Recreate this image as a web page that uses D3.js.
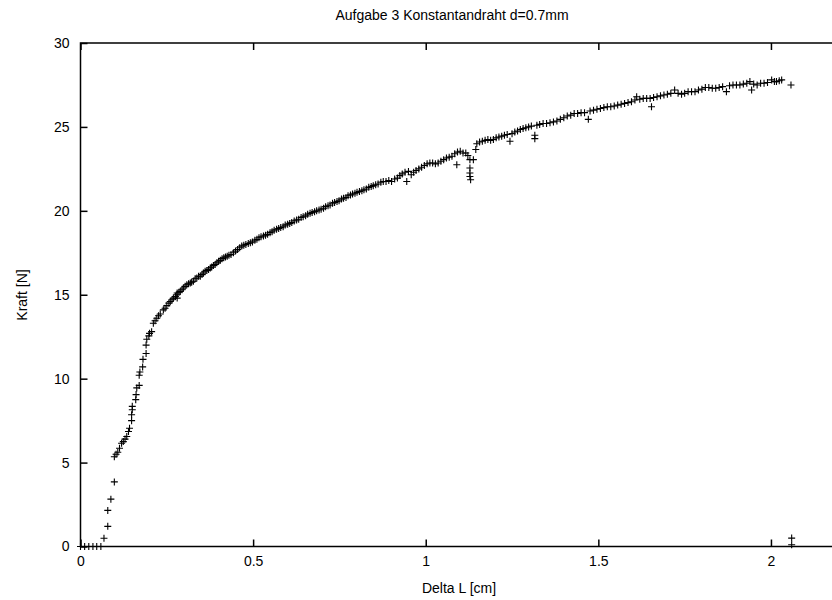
<!DOCTYPE html>
<html>
<head>
<meta charset="utf-8">
<script src="https://cdn.jsdelivr.net/npm/d3@7"></script>
<style>
  body { margin: 0; background: #fff; }
  svg { display: block; font-family: "Liberation Sans", Arial, sans-serif; }
</style>
</head>
<body>
<svg width="832" height="600"></svg>
<script>
// Messwerte: Delta L [cm] und Kraft [N]
const deltaL = [
  0, 0.012, 0.024, 0.036, 0.047, 0.059, 0.068, 0.079, 0.079, 0.088, 0.098, 0.098,
  0.103, 0.108, 0.113, 0.119, 0.124, 0.129, 0.134, 0.139, 0.142, 0.148, 0.148, 0.150,
  0.150, 0.160, 0.161, 0.163, 0.170, 0.170, 0.172, 0.180, 0.181, 0.190, 0.190, 0.192,
  0.198, 0.200, 0.206, 0.211, 0.216, 0.221, 0.226, 0.231, 0.240, 0.245, 0.250, 0.256,
  0.260, 0.265, 0.269, 0.275, 0.279, 0.280, 0.280, 0.285, 0.289, 0.294, 0.298, 0.303,
  0.308, 0.313, 0.318, 0.322, 0.327, 0.332, 0.337, 0.342, 0.347, 0.352, 0.356, 0.361,
  0.366, 0.371, 0.376, 0.380, 0.385, 0.390, 0.395, 0.400, 0.405, 0.410, 0.415, 0.420,
  0.425, 0.430, 0.436, 0.443, 0.449, 0.455, 0.461, 0.467, 0.473, 0.479, 0.486, 0.492,
  0.498, 0.505, 0.511, 0.517, 0.523, 0.530, 0.536, 0.542, 0.549, 0.555, 0.561, 0.568,
  0.574, 0.580, 0.587, 0.593, 0.600, 0.606, 0.612, 0.619, 0.626, 0.632, 0.639, 0.645,
  0.652, 0.658, 0.665, 0.671, 0.678, 0.684, 0.691, 0.697, 0.704, 0.710, 0.717, 0.723,
  0.730, 0.736, 0.743, 0.749, 0.756, 0.762, 0.769, 0.775, 0.782, 0.788, 0.795, 0.801,
  0.808, 0.815, 0.821, 0.828, 0.835, 0.842, 0.848, 0.855, 0.862, 0.870, 0.877, 0.885,
  0.893, 0.901, 0.910, 0.918, 0.925, 0.932, 0.940, 0.945, 0.950, 0.958, 0.965, 0.972,
  0.980, 0.988, 0.996, 1.004, 1.012, 1.020, 1.028, 1.036, 1.044, 1.052, 1.060, 1.068,
  1.076, 1.084, 1.090, 1.092, 1.100, 1.108, 1.116, 1.122, 1.128, 1.128, 1.128, 1.128,
  1.130, 1.138, 1.145, 1.148, 1.156, 1.164, 1.172, 1.180, 1.188, 1.196, 1.204, 1.212,
  1.220, 1.228, 1.236, 1.244, 1.250, 1.258, 1.266, 1.274, 1.282, 1.290, 1.298, 1.306,
  1.316, 1.316, 1.322, 1.330, 1.340, 1.350, 1.360, 1.370, 1.380, 1.390, 1.400, 1.410,
  1.420, 1.430, 1.440, 1.450, 1.460, 1.471, 1.476, 1.486, 1.496, 1.506, 1.516, 1.526,
  1.536, 1.546, 1.556, 1.566, 1.576, 1.586, 1.596, 1.606, 1.611, 1.620, 1.630, 1.640,
  1.650, 1.654, 1.660, 1.670, 1.680, 1.690, 1.700, 1.710, 1.721, 1.731, 1.741, 1.750,
  1.760, 1.770, 1.780, 1.790, 1.800, 1.810, 1.820, 1.830, 1.840, 1.850, 1.860, 1.871,
  1.880, 1.890, 1.900, 1.910, 1.920, 1.930, 1.939, 1.944, 1.950, 1.960, 1.970, 1.980,
  1.990, 2.002, 2.010, 2.016, 2.024, 2.031, 2.058, 2.060, 2.060
];
const kraft = [
  0, 0, 0, 0, 0, 0, 0.49, 1.2, 2.15, 2.82, 3.85, 5.35,
  5.5, 5.62, 5.85, 6.15, 6.25, 6.4, 6.55, 6.85, 7.05, 7.5, 7.85, 8.15,
  8.35, 8.75, 9.05, 9.45, 9.6, 10.2, 10.4, 10.7, 11.15, 11.5, 12.0, 12.35,
  12.55, 12.7, 12.8, 13.3, 13.45, 13.6, 13.75, 13.85, 14.1, 14.2, 14.35, 14.5,
  14.6, 14.7, 14.8, 14.9, 15.0, 15.1, 14.8, 15.15, 15.2, 15.3, 15.4, 15.5,
  15.6, 15.65, 15.7, 15.75, 15.8, 15.95, 16.0, 16.1, 16.1, 16.2, 16.3, 16.4,
  16.45, 16.5, 16.6, 16.65, 16.75, 16.8, 16.9, 17.0, 17.05, 17.15, 17.2, 17.25,
  17.3, 17.35, 17.4, 17.5, 17.6, 17.7, 17.8, 17.9, 17.95, 18.0, 18.05, 18.1,
  18.15, 18.25, 18.3, 18.4, 18.45, 18.5, 18.55, 18.6, 18.7, 18.75, 18.85, 18.9,
  18.95, 19.0, 19.05, 19.15, 19.2, 19.25, 19.3, 19.4, 19.45, 19.5, 19.6, 19.65,
  19.7, 19.8, 19.85, 19.9, 19.95, 20.0, 20.05, 20.1, 20.15, 20.25, 20.3, 20.35,
  20.45, 20.5, 20.55, 20.6, 20.7, 20.75, 20.8, 20.9, 20.95, 21.0, 21.05, 21.1,
  21.15, 21.2, 21.25, 21.3, 21.4, 21.45, 21.5, 21.55, 21.6, 21.7, 21.75, 21.75,
  21.8, 21.75, 21.9, 21.95, 22.1, 22.2, 22.3, 21.75, 22.35, 22.15, 22.3, 22.4,
  22.5, 22.6, 22.7, 22.8, 22.85, 22.85, 22.8, 22.85, 22.95, 23.05, 23.15, 23.2,
  23.25, 23.4, 22.75, 23.5, 23.55, 23.45, 23.45, 23.3, 23.05, 22.55, 22.25, 22.05,
  21.85, 23.05, 23.65, 24.0, 24.1, 24.15, 24.2, 24.25, 24.2, 24.25, 24.35, 24.4,
  24.45, 24.5, 24.55, 24.15, 24.6, 24.7, 24.75, 24.85, 24.9, 24.95, 25.0, 25.05,
  24.5, 24.3, 25.1, 25.15, 25.2, 25.2, 25.25, 25.3, 25.35, 25.45, 25.55, 25.65,
  25.7, 25.8, 25.8, 25.85, 25.85, 25.45, 25.95, 26.0, 26.05, 26.1, 26.15, 26.2,
  26.2, 26.25, 26.3, 26.35, 26.4, 26.45, 26.5, 26.6, 26.8, 26.65, 26.7, 26.7,
  26.7, 26.2, 26.75, 26.8, 26.85, 26.9, 26.95, 27.0, 27.2, 27.0, 26.95, 27.0,
  27.1, 27.1, 27.1, 27.2, 27.25, 27.35, 27.35, 27.3, 27.3, 27.35, 27.4, 27.1,
  27.45, 27.5, 27.5, 27.5, 27.55, 27.6, 27.7, 27.2, 27.55, 27.5, 27.6, 27.6,
  27.65, 27.8, 27.7, 27.7, 27.75, 27.8, 27.5, 0.5, 0.1
];
const xTicks = [0, 0.5, 1, 1.5, 2];
const yTicks = [0, 5, 10, 15, 20, 25, 30];

const svg = d3.select("svg");

// plot area (right edge lies just outside the picture, like the original)
const plotLeft = 80.5, plotRight = 840, plotTop = 43, plotBottom = 546.5;

const x = d3.scaleLinear().domain([0, 2.2]).range([plotLeft, plotRight]);
const y = d3.scaleLinear().domain([0, 30]).range([plotBottom, plotTop]);

// border
svg.append("rect")
  .attr("x", plotLeft).attr("y", plotTop)
  .attr("width", plotRight - plotLeft).attr("height", plotBottom - plotTop)
  .attr("fill", "none").attr("stroke", "#000").attr("stroke-width", 1.5);

// axes with inward ticks
const xAxis = svg.append("g")
  .attr("transform", `translate(0,${plotBottom})`)
  .call(d3.axisBottom(x).tickValues(xTicks).tickFormat(d3.format("")).tickSizeInner(-7).tickSizeOuter(0).tickPadding(10));
const xTop = svg.append("g")
  .attr("transform", `translate(0,${plotTop})`)
  .call(d3.axisTop(x).tickValues(xTicks).tickFormat("").tickSizeInner(-7).tickSizeOuter(0));
const yAxis = svg.append("g")
  .attr("transform", `translate(${plotLeft},0)`)
  .call(d3.axisLeft(y).tickValues(yTicks).tickSizeInner(-7).tickSizeOuter(0).tickPadding(11));

[xAxis, xTop, yAxis].forEach(g => {
  g.select(".domain").remove();
  g.selectAll("line").attr("stroke", "#000").attr("stroke-width", 1.5);
  g.selectAll("text").attr("font-size", 14).attr("fill", "#000")
    .attr("font-family", "'Liberation Sans', Arial, sans-serif");
});

// data points as "+" marks
const plus = "M-3.5,0H3.5M0,-3.5V3.5";
svg.append("g")
  .selectAll("path")
  .data(deltaL.map((d, i) => [d, kraft[i]]))
  .join("path")
  .attr("transform", d => `translate(${x(d[0])},${y(d[1])})`)
  .attr("d", plus)
  .attr("stroke", "#000")
  .attr("stroke-width", 1.1)
  .attr("fill", "none");

// title and labels
svg.append("text")
  .attr("x", 452).attr("y", 20)
  .attr("text-anchor", "middle").attr("font-size", 14)
  .text("Aufgabe 3 Konstantandraht d=0.7mm");

svg.append("text")
  .attr("x", 459).attr("y", 593)
  .attr("text-anchor", "middle").attr("font-size", 14)
  .text("Delta L [cm]");

svg.append("text")
  .attr("transform", "translate(27,295) rotate(-90)")
  .attr("text-anchor", "middle").attr("font-size", 14)
  .text("Kraft [N]");
</script>
</body>
</html>
